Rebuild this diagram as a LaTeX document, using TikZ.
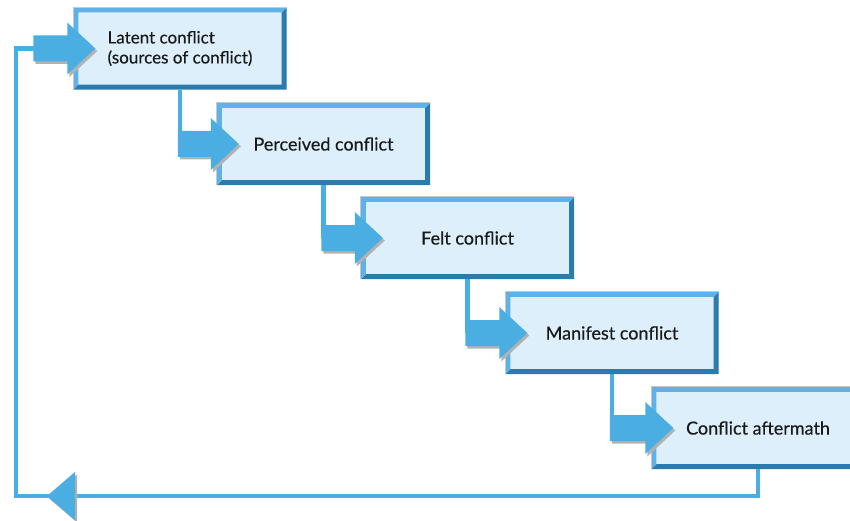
\documentclass[tikz,border=0pt]{standalone}
\usepackage{fontspec}
\setmainfont{Lato}[FakeBold=0.4]
\usetikzlibrary{calc,shadows}
\definecolor{boxfill}{HTML}{DCEFFA}
\definecolor{rimlight}{HTML}{5FB1EA}
\definecolor{rimdark}{HTML}{2B7CAD}
\definecolor{flow}{HTML}{4AAEE3}
% block arrow from a start point (#1) into the left side of node #2
\newcommand\flowarrow[2]{%
  \path[blockarrow] ($(#1)+(0,-13)$) -- ($(#2.west)+(-6,-13)$) -- ($(#2.west)+(-6,-26)$)
    -- ($(#2.west)+(22,0)$) -- ($(#2.west)+(-6,26)$) -- ($(#2.west)+(-6,13)$)
    -- ($(#1)+(0,13)$) -- cycle;}
\begin{document}
\begin{tikzpicture}[x=1pt,y=-1pt,
  stage/.style={fill=boxfill,minimum width=213pt,minimum height=82pt,inner sep=0pt,
    font=\fontsize{18}{20}\selectfont,align=left,text=black!90},
  conn/.style={draw=flow,line width=4.5pt},
  blockarrow/.style={fill=flow,drop shadow={shadow xshift=2pt,shadow yshift=-2.5pt,fill=black!30,opacity=1}}]
\useasboundingbox (0,0) rectangle (850,521);
\clip (0,0) rectangle (850,521);

% the five stages
\node[stage,font=\fontsize{17}{20}\selectfont] (b1) at (180,48.5) {Latent conflict\\(sources of conflict)};
\node[stage] (b2) at (323.5,144) {Perceived conflict};
\node[stage] (b3) at (467.5,238) {Felt conflict};
\node[stage] (b4) at (612,333) {Manifest conflict};
\node[stage] (b5) at (758,428) {Conflict aftermath};

% bevelled rims
\foreach \n in {b1,b2,b3,b4,b5}{
  \fill[rimdark] (\n.south west) -- (\n.south east) -- (\n.north east)
    -- ([shift={(-5,5)}]\n.north east) -- ([shift={(-5,-5)}]\n.south east)
    -- ([shift={(5,-5)}]\n.south west) -- cycle;
  \fill[rimlight] (\n.south west) -- (\n.north west) -- (\n.north east)
    -- ([shift={(-5,5)}]\n.north east) -- ([shift={(5,5)}]\n.north west)
    -- ([shift={(5,-5)}]\n.south west) -- cycle;
  \draw[black!22,line width=0.8pt] (\n.south west) -- (\n.north west) -- (\n.north east);
}

% start points of the block arrows
\coordinate (s1) at ($(b1.west)+(-40,0)$);
\coordinate (s2) at ($(b1.south |- b2.west)+(-2.25,0)$);
\coordinate (s3) at ($(b2.south |- b3.west)+(-2.25,0)$);
\coordinate (s4) at ($(b3.south |- b4.west)+(-2.25,0)$);
\coordinate (s5) at ($(b4.south |- b5.west)+(-2.25,0)$);
\coordinate (lc) at (16,496);
\coordinate (ah) at (47,496);

% connectors
\draw[conn] (b1.south) -- (b1.south |- b2.west);
\draw[conn] (b2.south) -- (b2.south |- b3.west);
\draw[conn] (b3.south) -- (b3.south |- b4.west);
\draw[conn] (b4.south) -- (b4.south |- b5.west);
\draw[conn] (b5.south) |- (lc) |- ($(s1)+(2,0)$);

% arrows
\flowarrow{s1}{b1}
\flowarrow{s2}{b2}
\flowarrow{s3}{b3}
\flowarrow{s4}{b4}
\flowarrow{s5}{b5}
\path[blockarrow] (ah) -- ++(28,-24) -- ++(0,48) -- cycle;
\end{tikzpicture}
\end{document}
